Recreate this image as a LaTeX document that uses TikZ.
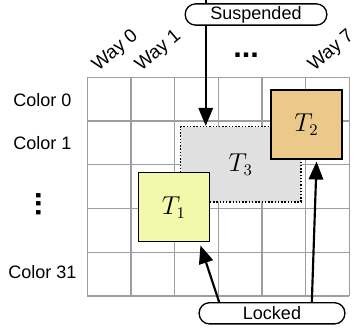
\documentclass[tikz,border=0pt]{standalone}
\usepackage{fontspec}
\setmainfont{Liberation Sans}
\usetikzlibrary{arrows.meta,backgrounds}
\definecolor{lockyellow}{HTML}{F4F8AA}
\definecolor{locktan}{HTML}{EBC98A}
\definecolor{suspgray}{HTML}{E0E0E0}
\begin{document}
\begin{tikzpicture}[
  x=0.5556pt, y=-0.5556pt, font=\fontsize{10}{12}\selectfont,
  gridline/.style={draw=black!38, line width=0.65pt},
  task/.style={draw, line width=0.8pt, minimum width=39.4pt, minimum height=38.3pt, inner sep=0pt, font=\fontsize{13.5}{16}\selectfont},
  pill/.style={draw, fill=white, rounded corners=5.8pt, line width=0.75pt, minimum height=11.8pt, inner sep=0pt},
  way/.style={rotate=40, anchor=base west, inner sep=0pt, font=\fontsize{10.5}{12}\selectfont},
  bigdots/.style={inner sep=0pt, font=\fontsize{17}{20}\selectfont\bfseries},
  link/.style={->, line width=1.2pt},
  >={Triangle[length=10pt, width=8pt]}]
\useasboundingbox (0,0) rectangle (357,329);
% row and column labels
\node (c0) at (42.5,100) {Color 0};
\node (c1) at (42.5,143.5) {Color 1};
\node[bigdots, rotate=-90, anchor=base] (cdots) at (36.5,204) {...};
\node (c31) at (42.5,272) {Color 31};
\node[way] (w0) at (98,72) {Way 0};
\node[way] (w1) at (141,72) {Way 1};
\node[bigdots, anchor=base] (wdots) at (246,57.5) {...};
\node[way] (w7) at (314,72) {Way 7};
% tasks
\node[task, fill=suspgray, densely dotted, line width=0.9pt, minimum width=66.7pt, minimum height=41.7pt] (T3) at (240.7,164.2) {$T_3$};
\node[task, fill=lockyellow] (T1) at (173.8,207.2) {$T_1$};
\node[task, fill=locktan] (T2) at (306.5,124.5) {$T_2$};
% states
\node[pill, minimum width=78.7pt] (sus) at (256,14.5) {Suspended};
\node[pill, minimum width=81pt] (lock) at (272,313.3) {Locked};
\begin{scope}[on background layer]
\foreach \i in {0,...,6}
  \draw[gridline] (87.3+\i*43.67,77.3) -- (87.3+\i*43.67,296);
\foreach \j in {0,...,5}
  \draw[gridline] (87.3,77.3+\j*43.73) -- (349.3,77.3+\j*43.73);
\draw[link] ([xshift=11.8pt, yshift=2.5pt]sus.north west) -- ([xshift=11.8pt]sus.south west |- T3.north);
\draw[link] ([xshift=11.5pt]lock.north west) -- ([xshift=-5.3pt, yshift=-1.7pt]T1.south east);
\draw[link] ([xshift=63pt]lock.north west) -- ([xshift=5.6pt, yshift=-1pt]T2.south);
\end{scope}
\end{tikzpicture}
\end{document}
